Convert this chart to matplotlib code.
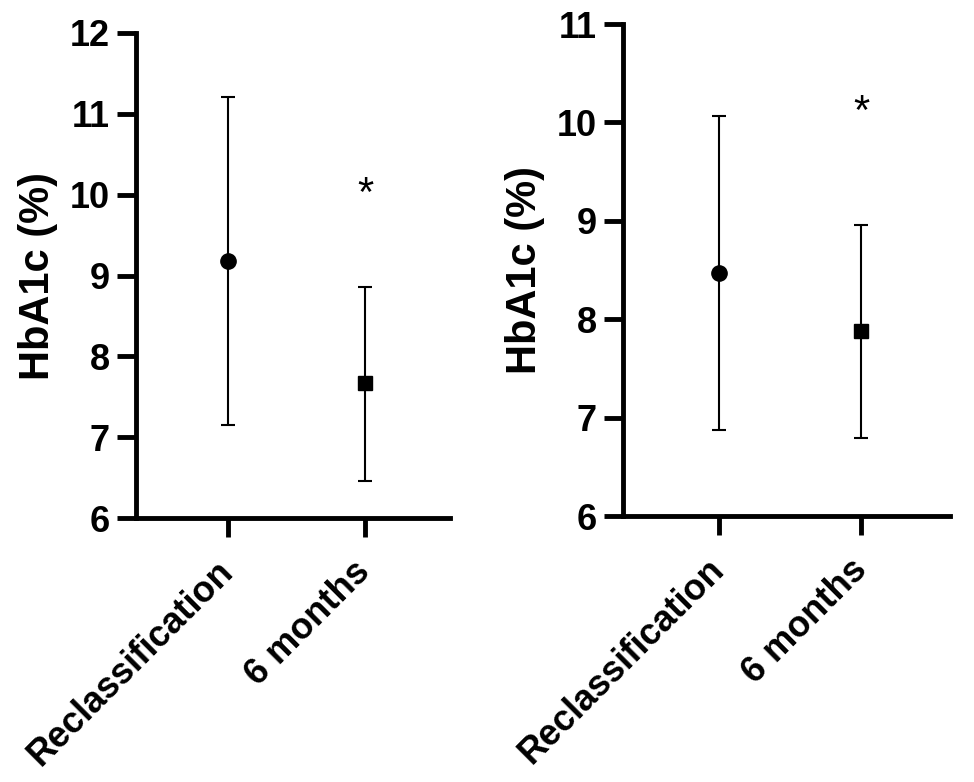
import matplotlib.pyplot as plt

plt.rcParams['font.family'] = ['Liberation Sans', 'DejaVu Sans']

# ---- data ----
groups = ['Reclassification', '6 months']
left_mean = [9.18, 7.67]
left_upper = [11.21, 8.86]
left_lower = [7.15, 6.46]
right_mean = [8.47, 7.88]
right_upper = [10.07, 8.96]
right_lower = [6.87, 6.79]
left_star_y = 10.0
right_star_y = 10.1
markers = ['o', 's']
marker_sizes = [11, 9.5]

fig = plt.figure(figsize=(9.74, 7.82), dpi=100)
ax1 = fig.add_axes([136/974, 1 - 518/782, (450-136)/974, (518-33)/782])
ax2 = fig.add_axes([623/974, 1 - 516/782, (950-623)/974, (516-24)/782])


def draw_panel(ax, mean, upper, lower, star_y, ylim):
    for i in range(len(groups)):
        ax.errorbar(i, mean[i],
                    yerr=[[mean[i] - lower[i]], [upper[i] - mean[i]]],
                    fmt=markers[i], color='black', markersize=marker_sizes[i],
                    elinewidth=1.5, capsize=5, capthick=1.5)
    ax.text(1, star_y, '*', ha='center', va='center', fontsize=30)
    ax.set_xlim(-0.67, 1.62)
    ax.set_ylim(*ylim)
    ax.set_yticks(range(ylim[0], ylim[1] + 1))
    ax.set_xticks(range(len(groups)))
    ax.set_xticklabels(groups, rotation=45, ha='right', va='center',
                       rotation_mode='anchor', fontsize=26, fontweight='bold')
    for lab in ax.get_yticklabels():
        lab.set_fontweight('bold')
        lab.set_fontsize(26)
    ax.set_ylabel('HbA1c (%)', fontsize=30, fontweight='bold', labelpad=8)
    for s in ['top', 'right']:
        ax.spines[s].set_visible(False)
    for s in ['left', 'bottom']:
        ax.spines[s].set_linewidth(3.5)
    ax.tick_params(width=3.5, length=14, direction='out')
    ax.tick_params(axis='y', pad=5)
    ax.tick_params(axis='x', pad=21)
    ax.spines['left'].set_capstyle('projecting')


draw_panel(ax1, left_mean, left_upper, left_lower, left_star_y, (6, 12))
draw_panel(ax2, right_mean, right_upper, right_lower, right_star_y, (6, 11))

fig.savefig('out.png', dpi=100)
